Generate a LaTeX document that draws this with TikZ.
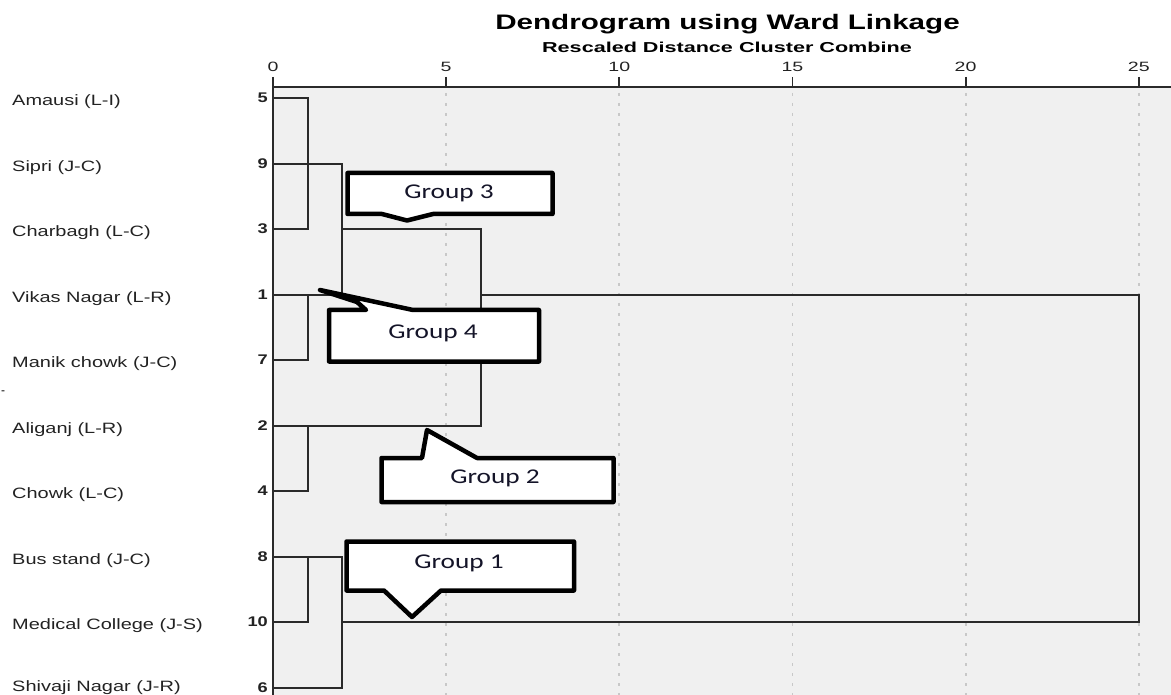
\documentclass[tikz,border=0pt]{standalone}
\usepackage{fontspec}
\setmainfont{Liberation Sans}
\newfontfamily\grpfont{Carlito}
\definecolor{panel}{HTML}{F0F0F0}
\definecolor{dline}{HTML}{2A2A2A}
\definecolor{gridc}{HTML}{C8C8C8}
\definecolor{grptext}{HTML}{141428}
\definecolor{labc}{HTML}{222222}
\begin{document}
\begin{tikzpicture}[x=1pt,y=-1pt,
  nameL/.style={anchor=base west,inner sep=0pt,text=labc},
  numL/.style={anchor=east,inner sep=0pt,font=\bfseries\fontsize{14}{16}\selectfont,text=labc},
  tickL/.style={anchor=base,inner sep=0pt,text=labc},
  dend/.style={draw=dline,line width=2pt,line cap=rect},
  gridl/.style={draw=gridc,line width=1.8pt,dash pattern=on 3pt off 7pt},
  callout/.style={draw=black,fill=white,line width=4.5pt,line join=round},
  grpL/.style={inner sep=0pt,text=grptext}]
\useasboundingbox (0,0) rectangle (1171,695);
% panel
\fill[panel] (273,87) rectangle (1171,695);
% grid lines
\foreach \v in {5,10,15,20,25}{
  \draw[gridl] ({273+34.63*\v},93) -- ({273+34.63*\v},695);
}
% axis
\draw[dline,line width=1.6pt] (272,87) -- (1171,87);
\draw[dline,line width=2.6pt] (273,86) -- (273,695);
\foreach \v in {0,5,10,15,20,25}{
  \draw[dline,line width=1.8pt] ({273+34.63*\v},77) -- ({273+34.63*\v},87);
  \node[tickL] (t\v) at ({273+34.63*\v},72) {\scalebox{1.45}[1]{\fontsize{13.5}{15}\selectfont \v}};
}
% title
\node[anchor=base,inner sep=0pt] (title) at (727.5,30) {\scalebox{1.41}[1]{\bfseries\fontsize{21}{24}\selectfont Dendrogram using Ward Linkage}};
\node[anchor=base,inner sep=0pt] (subtitle) at (727,52.5) {\scalebox{1.5}[1]{\bfseries\fontsize{14.4}{16}\selectfont Rescaled Distance Cluster Combine}};
% rows
\def\rA{98}\def\rB{164}\def\rC{229}\def\rD{295}\def\rE{360}
\def\rF{426}\def\rG{491}\def\rH{557}\def\rI{622}\def\rJ{688}
\def\xa{308}\def\xb{342}\def\xc{481}\def\xd{1139}
\foreach \y/\off/\num/\nm [count=\i] in {98/7.5/5/Amausi (L-I),164/7.5/9/Sipri (J-C),229/7.5/3/Charbagh (L-C),295/7.5/1/Vikas Nagar (L-R),360/7.5/7/Manik chowk (J-C),426/7.5/2/Aliganj (L-R),491/7.5/4/Chowk (L-C),557/7.5/8/Bus stand (J-C),622/7.5/10/Medical College (J-S),688/3.5/6/Shivaji Nagar (J-R)}{
  \node[nameL] (name\i) at (12,\y+\off) {\scalebox{1.33}[1]{\fontsize{15}{17}\selectfont \nm}};
  \node[numL] (num\i) at (268,\y) {\scalebox{1.3}[1]{\num}};
}
\node[inner sep=0pt] (dash) at (3,393) {\fontsize{12}{14}\selectfont -};
% dendrogram
\draw[dend] (273,\rA) -- (\xa,\rA) -- (\xa,\rC) -- (273,\rC);
\draw[dend] (273,\rB) -- (\xb,\rB) -- (\xb,\rD);
\draw[dend] (273,\rD) -- (\xb,\rD);
\draw[dend] (273,\rE) -- (\xa,\rE) -- (\xa,\rD);
\draw[dend] (\xb,\rC) -- (\xc,\rC) -- (\xc,\rF) -- (273,\rF);
\draw[dend] (273,\rG) -- (\xa,\rG) -- (\xa,\rF);
\draw[dend] (\xc,\rD) -- (\xd,\rD) -- (\xd,\rI) -- (\xb,\rI);
\draw[dend] (273,\rH) -- (\xb,\rH) -- (\xb,\rJ) -- (273,\rJ);
\draw[dend] (273,\rI) -- (\xa,\rI) -- (\xa,\rH);
% callouts
\draw[callout] (347.5,173) -- (552.5,173) -- (552.5,214) -- (433,214) -- (407,220.5) -- (382,214) -- (347.5,214) -- cycle;
\node[grpL] (g3) at (449,193) {\scalebox{1.3}[1]{\grpfont\fontsize{21}{24}\selectfont Group 3}};
\draw[callout] (329,310) -- (366,310) -- (357,302) -- (320,290) -- (413,310) -- (539,310) -- (539,361.5) -- (329,361.5) -- cycle;
\node[grpL] (g4) at (433,333) {\scalebox{1.3}[1]{\grpfont\fontsize{21}{24}\selectfont Group 4}};
\draw[callout] (381.5,458) -- (422,458) -- (427,430) -- (477,458) -- (613.5,458) -- (613.5,502) -- (381.5,502) -- cycle;
\node[grpL] (g2) at (495,478) {\scalebox{1.3}[1]{\grpfont\fontsize{21}{24}\selectfont Group 2}};
\draw[callout] (346.5,541.5) -- (574,541.5) -- (574,590.5) -- (441,590.5) -- (412,617) -- (384,590.5) -- (346.5,590.5) -- cycle;
\node[grpL] (g1) at (459,563) {\scalebox{1.3}[1]{\grpfont\fontsize{21}{24}\selectfont Group 1}};
\end{tikzpicture}
\end{document}
